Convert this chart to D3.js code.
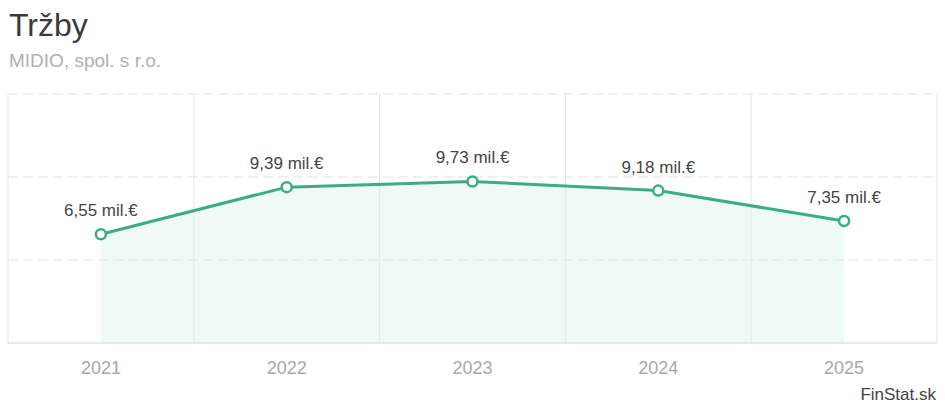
<!DOCTYPE html>
<html lang="sk">
<head>
<meta charset="UTF-8">
<title>Tržby</title>
<style>
  body { margin: 0; background: #fff; }
  svg { font-family: "Liberation Sans", Arial, sans-serif; }
</style>
</head>
<body>
<script src="https://cdn.jsdelivr.net/npm/d3@7"></script>
<div id="chart"></div>
<script>
  // data
  var years = ["2021", "2022", "2023", "2024", "2025"];
  var trzby = [6.55, 9.39, 9.73, 9.18, 7.35];
  var valueLabels = ["6,55 mil.€", "9,39 mil.€", "9,73 mil.€", "9,18 mil.€", "7,35 mil.€"];
  var yTicks = [0, 5, 10, 15];

  var W = 945, H = 406;
  var plot = {left: 8, right: 937, top: 94, bottom: 343};

  var svg = d3.select("#chart").append("svg")
    .attr("width", W)
    .attr("height", H);

  // title
  svg.append("text")
    .attr("x", 9).attr("y", 36)
    .style("font-size", "32px").style("fill", "#3a3a3a")
    .text("Tržby");
  svg.append("text")
    .attr("x", 9).attr("y", 67)
    .style("font-size", "19px").style("fill", "#b0b0b0")
    .text("MIDIO, spol. s r.o.");

  var x = d3.scaleBand().domain(years).range([plot.left, plot.right]);
  var y = d3.scaleLinear().domain([0, 15]).range([plot.bottom, plot.top]);

  var cx = function(d, i) { return x(years[i]) + x.bandwidth() / 2; };

  // area (drawn first, gridlines sit on top)
  svg.append("path")
    .datum(trzby)
    .attr("d", d3.area().x(cx).y0(y(0)).y1(function(d) { return y(d); }))
    .style("fill", "#effaf5");

  // vertical gridlines (band edges)
  var edges = years.map(function(d) { return x(d); }).concat([plot.right]);
  svg.append("g").selectAll("line")
    .data(edges).enter().append("line")
    .attr("x1", function(d) { return d; }).attr("x2", function(d) { return d; })
    .attr("y1", plot.top).attr("y2", plot.bottom)
    .style("stroke", "#e6e6e6").style("stroke-width", 1);

  // horizontal gridlines
  svg.append("g").selectAll("line")
    .data(yTicks).enter().append("line")
    .attr("x1", plot.left).attr("x2", plot.right)
    .attr("y1", function(d) { return y(d); }).attr("y2", function(d) { return y(d); })
    .style("stroke", "#e2e2e2")
    .style("stroke-width", function(d) { return d === 0 ? 1.5 : 1.2; })
    .style("stroke-dasharray", function(d) { return d === 0 ? null : "10,5"; });

  // line
  svg.append("path")
    .datum(trzby)
    .attr("d", d3.line().x(cx).y(function(d) { return y(d); }))
    .style("fill", "none").style("stroke", "#3aae80").style("stroke-width", 3);

  // points
  svg.append("g").selectAll("circle")
    .data(trzby).enter().append("circle")
    .attr("cx", cx).attr("cy", function(d) { return y(d); })
    .attr("r", 5)
    .style("fill", "#fff").style("stroke", "#3aae80").style("stroke-width", 2.5);

  // value labels
  svg.append("g").selectAll("text")
    .data(trzby).enter().append("text")
    .attr("x", cx).attr("y", function(d) { return y(d) - 18; })
    .attr("text-anchor", "middle")
    .style("font-size", "17px").style("fill", "#444")
    .text(function(d, i) { return valueLabels[i]; });

  // x axis labels
  svg.append("g")
    .attr("transform", "translate(0," + plot.bottom + ")")
    .call(d3.axisBottom(x).tickSize(0).tickPadding(18))
    .call(function(g) { g.select(".domain").remove(); })
    .selectAll("text")
    .style("font-size", "18px").style("fill", "#a8a8a8")
    .style("font-family", "Liberation Sans, Arial, sans-serif");

  // source
  svg.append("text")
    .attr("x", 936).attr("y", 400)
    .attr("text-anchor", "end")
    .style("font-size", "17px").style("fill", "#444")
    .text("FinStat.sk");
</script>
</body>
</html>
